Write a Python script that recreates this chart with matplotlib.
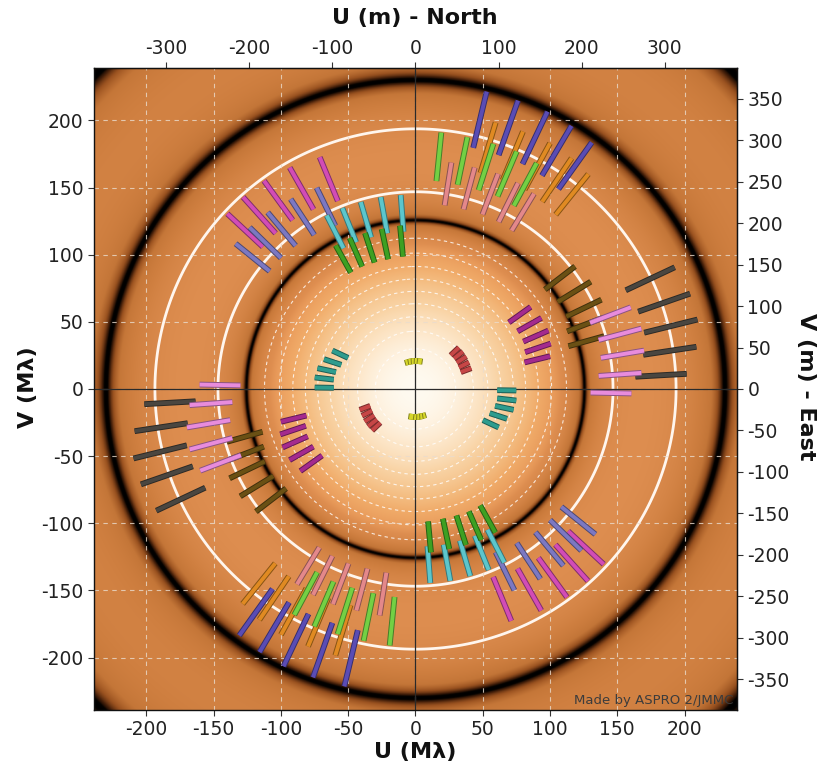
import numpy as np
import matplotlib
matplotlib.use("Agg")
import matplotlib.pyplot as plt
from matplotlib.colors import LinearSegmentedColormap, Normalize, to_rgb
import matplotlib.patheffects as pe

plt.rcParams["axes.unicode_minus"] = False
plt.rcParams["font.family"] = ["DejaVu Sans"]

# ---- target model and spectral setup ----
disk_diameter_mas = 2.0          # uniform disk
lambda_min_um = 1.46             # shortest wavelength of the band
lambda_max_um = 1.80             # longest wavelength of the band
lambda_ref_um = 1.62             # wavelength used for the metre axes

# ---- uv tracks: (u, v) in Mlambda at the shortest wavelength, one half-plane ----
track_blue = [(52.9, 221.4), (76.2, 214.7), (98.1, 206.5), (115.9, 195.9), (131.0, 183.5)]
track_orange = [(59.6, 198.4), (79.9, 191.7), (100.0, 183.0), (116.1, 171.9), (128.5, 160.0)]
track_lightgreen = [(19.2, 190.9), (38.6, 187.5), (57.9, 182.5), (75.2, 176.8), (90.1, 168.2)]
track_salmon = [(26.7, 168.6), (44.0, 164.9), (61.4, 160.2), (76.2, 153.3), (88.1, 145.4)]
track_magenta = [(-139.9, 130.5), (-128.2, 142.9), (-112.6, 155.0), (-93.5, 164.9), (-71.2, 172.6)]
track_lavender = [(-133.7, 108.2), (-123.3, 120.3), (-109.9, 131.5), (-92.8, 141.4), (-73.5, 149.8)]
track_cyan = [(-66.0, 129.2), (-54.4, 134.7), (-40.7, 139.2), (-25.9, 142.9), (-11.0, 144.4)]
track_green = [(-59.3, 106.9), (-48.9, 112.4), (-37.5, 116.1), (-25.1, 119.1), (-11.5, 121.6)]
track_teal = [(-61.8, 28.6), (-68.0, 22.2), (-72.9, 15.5), (-74.9, 8.6), (-74.9, 1.1)]
track_yellow = [(-6.5, 22.0), (-4.0, 22.6), (-1.5, 22.9), (1.0, 23.0), (3.5, 22.8)]
track_red = [(32.3, 30.9), (35.3, 27.9), (37.8, 24.2), (39.8, 19.9), (41.5, 15.5)]
track_olive = [(118.6, 91.3), (130.3, 79.9), (138.2, 66.5), (139.0, 52.9), (140.2, 39.3)]
track_gray = [(192.7, 90.6), (204.1, 71.0), (209.6, 51.7), (208.8, 31.4), (201.6, 11.3)]
track_pink = [(160.0, 60.8), (167.9, 45.0), (169.9, 28.6), (167.9, 12.0), (160.5, -3.3)]
track_purple = [(85.6, 61.1), (93.6, 52.9), (98.8, 43.5), (100.5, 33.8), (100.0, 24.4)]

tracks = [
    (track_blue, "#5a4cb4"),
    (track_orange, "#e08a22"),
    (track_lightgreen, "#74d044"),
    (track_salmon, "#e4888a"),
    (track_magenta, "#d24cb6"),
    (track_lavender, "#7c78c2"),
    (track_cyan, "#5cc6cc"),
    (track_green, "#3ea022"),
    (track_teal, "#2e9c8e"),
    (track_yellow, "#d6d62a"),
    (track_red, "#c64646"),
    (track_olive, "#6a5014"),
    (track_gray, "#4a4640"),
    (track_pink, "#e88cdc"),
    (track_purple, "#a42a8e"),
]

u_ticks = np.arange(-200, 201, 50)
v_ticks = np.arange(-200, 201, 50)
u_m_ticks = np.arange(-300, 301, 100)
v_m_ticks = np.arange(-350, 351, 50)
lim = 239.0


def bessel_j1(x):
    tau = np.linspace(0.0, np.pi, 721)
    integrand = np.cos(tau[None, :] - x[:, None] * np.sin(tau[None, :]))
    return np.trapezoid(integrand, tau, axis=1) / np.pi


def disk_visibility(rho_mlambda):
    theta = disk_diameter_mas * np.pi / (180.0 * 3600.0 * 1000.0)
    x = np.pi * theta * rho_mlambda * 1e6
    vis = np.ones_like(x)
    nz = x > 1e-9
    vis[nz] = 2.0 * bessel_j1(x[nz]) / x[nz]
    return vis


# radial profile, then mapped on the image grid (top row first)
rho_1d = np.linspace(0.0, lim * 1.5, 6000)
vis_1d = disk_visibility(rho_1d)

n = 1000
axis_vals = np.linspace(-lim, lim, n)
UU, VV = np.meshgrid(axis_vals, axis_vals[::-1])
RR = np.hypot(UU, VV)
vis = np.interp(RR, rho_1d, vis_1d)
amp = np.abs(vis)

# amplitude shown on a logarithmic scale (1e-3 .. 1)
log_amp = (np.log10(np.clip(amp, 1e-3, 1.0)) + 3.0) / 3.0

cmap = LinearSegmentedColormap.from_list("earth_amp", [
    (0.00, "#000000"),
    (0.18, "#050200"),
    (0.29, "#46200a"),
    (0.39, "#9a5220"),
    (0.48, "#c47638"),
    (0.58, "#cf7f40"),
    (0.66, "#d8884a"),
    (0.71, "#de8e50"),
    (0.75, "#e89a5a"),
    (0.82, "#f0aa68"),
    (0.87, "#f4bc80"),
    (0.93, "#f9d4a6"),
    (0.97, "#fde8cc"),
    (1.00, "#fffaf0"),
], N=2048)
rgb = cmap(Normalize(0, 1)(log_amp))[..., :3]

# gentle relief shading, light from the upper left
pix = 2 * lim / (n - 1)
elev = log_amp * 3.0
gy, gx = np.gradient(elev, pix)
nx, ny, nz = -gx, gy, np.ones_like(gx)
norm = np.sqrt(nx ** 2 + ny ** 2 + nz ** 2)
alt = np.radians(45.0)
light = np.array([-np.cos(alt) * np.sqrt(0.5), np.cos(alt) * np.sqrt(0.5), np.sin(alt)])
inten = (nx * light[0] + ny * light[1] + nz * light[2]) / norm
shade = 1.0 + 0.22 * (inten - np.sin(alt))
rgb = np.clip(rgb * shade[..., None], 0, 1)

fig = plt.figure(figsize=(8.17, 7.71), dpi=100)
ax = fig.add_axes([94 / 817, 61 / 771, 643 / 817, 642 / 771])
ax.imshow(rgb, extent=[-lim, lim, -lim, lim], origin="upper",
          interpolation="bilinear", zorder=0)

# iso-visibility contours
ax.contour(UU, VV, vis, levels=np.arange(0.1, 0.95, 0.1), colors="#ffffff",
           linewidths=0.8, linestyles=[(0, (3, 3))], alpha=0.8, zorder=1)
ax.contour(UU, VV, vis, levels=[-0.1], colors="#fff6ee",
           linewidths=2.0, linestyles="solid", zorder=1)

ax.set_xlim(-lim, lim)
ax.set_ylim(-lim, lim)
ax.set_aspect("auto")
ax.set_xticks(u_ticks)
ax.set_yticks(v_ticks)
ax.grid(True, color="#eadccd", linestyle=(0, (4, 4)), linewidth=0.8, alpha=0.8, zorder=2)
ax.axhline(0, color="#2a2a2a", lw=0.9, zorder=2)
ax.axvline(0, color="#2a2a2a", lw=0.9, zorder=2)

# spectral bars, drawn at (u, v) and at the symmetric point (-u, -v)
ratio = lambda_min_um / lambda_max_um
for pts, col in tracks:
    edge = tuple(c * 0.6 for c in to_rgb(col))
    for (u, v) in pts:
        for s in (1, -1):
            ax.plot([s * u * ratio, s * u], [s * v * ratio, s * v], color=col,
                    lw=2.8, solid_capstyle="butt", zorder=5,
                    path_effects=[pe.Stroke(linewidth=4.2, foreground=edge), pe.Normal()])

tick_kw = dict(labelsize=13.5, labelcolor="#222222", length=4, width=0.8, color="#333333")
ax.tick_params(axis="both", **tick_kw)

to_m = lambda q: q * lambda_ref_um
to_mlam = lambda m: m / lambda_ref_um
secx = ax.secondary_xaxis("top", functions=(to_m, to_mlam))
secx.set_xticks(u_m_ticks)
secx.tick_params(**tick_kw)
secy = ax.secondary_yaxis("right", functions=(to_m, to_mlam))
secy.set_yticks(v_m_ticks)
secy.tick_params(**tick_kw)

for sp in ax.spines.values():
    sp.set_color("#111111")
    sp.set_linewidth(1.0)

lab = dict(fontsize=16, fontweight="bold", color="#111111", ha="center", va="center")
fig.text(415 / 817, 1 - 18 / 771, "U (m) - North", **lab)
fig.text(415 / 817, 1 - 752 / 771, "U (M\u03bb)", **lab)
fig.text(28 / 817, 1 - 387 / 771, "V (M\u03bb)", rotation=90, **lab)
fig.text(806 / 817, 1 - 387 / 771, "V (m) - East", rotation=270, **lab)

ax.text(0.994, 0.004, "Made by ASPRO 2/JMMC", transform=ax.transAxes, ha="right",
        va="bottom", fontsize=9.5, color="#3c3c3c", zorder=6)

fig.savefig("out.png", dpi=100)
